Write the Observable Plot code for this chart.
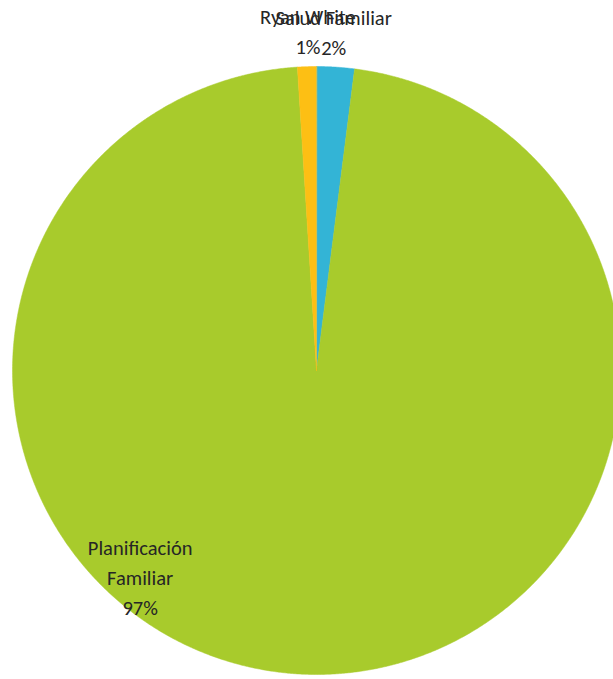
<!DOCTYPE html>
<html>
<head>
<meta charset="utf-8">
<script src="https://cdn.jsdelivr.net/npm/d3@7"></script>
<script src="https://cdn.jsdelivr.net/npm/@observablehq/plot@0.6"></script>
<style>
  html, body { margin: 0; padding: 0; background: #fff; }
</style>
</head>
<body>
<div id="chart"></div>
<script>
// Data
const categories = ["Salud Familiar", "Planificación Familiar", "Ryan White"];
const values = [2, 97, 1];
const percentLabels = ["2%", "97%", "1%"];
const colors = ["#33b4d6", "#a8cb2c", "#fdbf14"];

// Layout
const W = 613, H = 679;
const cx = 316, cy = 370, R = 304;

const pie = d3.pie().sort(null).value(d => d)(values);

// Build slice polygons (angle clockwise from top, unit radius)
const slicePts = [];
pie.forEach((p, i) => {
  const cat = categories[i];
  slicePts.push({cat, x: 0, y: 0});
  const n = Math.max(2, Math.ceil((p.endAngle - p.startAngle) / 0.005));
  for (let k = 0; k <= n; k++) {
    const a = p.startAngle + (p.endAngle - p.startAngle) * k / n;
    slicePts.push({cat, x: Math.sin(a), y: Math.cos(a)});
  }
});

// Labels: small slices outside end, large slice best-fit inside
const labels = pie.map((p, i) => {
  const share = values[i] / d3.sum(values);
  let x, y;
  if (share < 0.05) {
    const a = (p.startAngle + p.endAngle) / 2;
    x = 0.9 * Math.sin(a);
    y = 1.122 * Math.cos(a);
  } else {
    const a = 220.4 * Math.PI / 180;
    x = 0.895 * Math.sin(a);
    y = 0.885 * Math.cos(a);
  }
  const name = share < 0.05 ? categories[i] : categories[i].replace(" ", "\n");
  return {x, y, text: name + "\n" + percentLabels[i]};
});

const chart = Plot.plot({
  width: W,
  height: H,
  margin: 0,
  x: {domain: [-cx / R, (W - cx) / R], range: [0, W], axis: null},
  y: {domain: [-(H - cy) / R, cy / R], range: [H, 0], axis: null},
  color: {domain: categories, range: colors},
  style: {background: "#fff"},
  marks: [
    Plot.line(slicePts, {x: "x", y: "y", z: "cat", fill: "cat", stroke: "cat", strokeWidth: 0.5, curve: "linear-closed"}),
    Plot.text(labels, {x: "x", y: "y", text: "text", fontSize: 20.5, lineHeight: 1.47, fill: "#262626", fontFamily: "Carlito, Calibri, Lato, sans-serif"})
  ]
});

document.getElementById("chart").appendChild(chart);
</script>
</body>
</html>
